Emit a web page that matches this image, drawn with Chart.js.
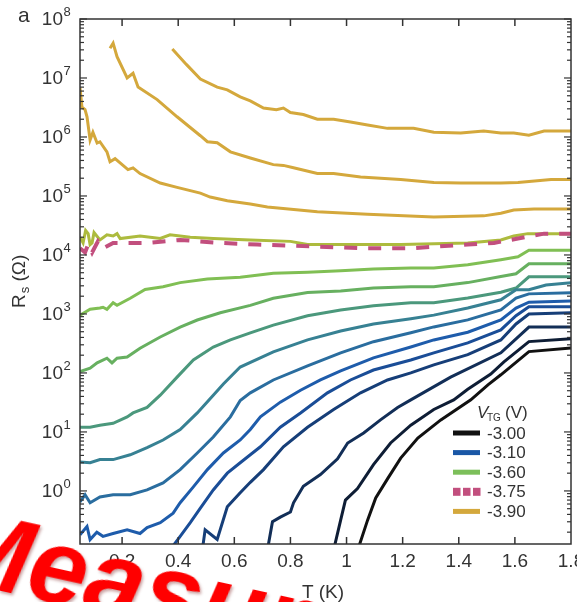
<!DOCTYPE html>
<html lang="en">
<head>
<meta charset="UTF-8">
<title>Rs versus T</title>
<script src="https://cdn.jsdelivr.net/npm/chart.js"></script>
<style>
  body { margin: 0; background: #fff; }
  #wrap { position: relative; width: 577px; height: 602px; overflow: hidden; }
  #stamp {
    position: absolute; left: -43px; top: 490px;
    font: italic bold 105px "Liberation Sans", Arial, sans-serif;
    line-height: 1; color: #ff0000; white-space: nowrap;
    transform: rotate(12.5deg); transform-origin: 0 0;
    text-shadow: 2px 2px 3px rgba(110, 0, 0, 0.35);
  }
</style>
</head>
<body>
<div id="wrap">
  <canvas id="rsChart" width="577" height="602"></canvas>
  <div id="stamp">Measure</div>
</div>
<script>
// axis ranges and tick labels
const tRange = [0.05, 1.8];
const rRange = [0.126, 1e8];
const xTickValues = [0.2, 0.4, 0.6, 0.8, 1, 1.2, 1.4, 1.6, 1.8];
const xTickLabels = ['0.2', '0.4', '0.6', '0.8', '1', '1.2', '1.4', '1.6', '1.8'];
const yDecades = [0, 1, 2, 3, 4, 5, 6, 7, 8];

// legend
const legendLabels = ['-3.00', '-3.10', '-3.60', '-3.75', '-3.90'];
const legendColors = ['#111111', '#1a57a6', '#7cbf5a', '#c24f7e', '#d4a83c'];

// curves, [T (K), Rs (ohm)], lowest curve first
const c01 = [[1.04,0.1],[1.075,0.32],[1.104,0.76],[1.146,1.6],[1.193,3.6],[1.254,7.9],[1.336,16],[1.443,35],[1.504,63],[1.55,93],[1.65,230],[1.8,265]];
const c02 = [[0.954,0.1],[0.979,0.32],[0.996,0.7],[1.039,1.1],[1.096,2.8],[1.157,6.5],[1.229,13],[1.311,24],[1.382,35],[1.432,53],[1.514,96],[1.561,154],[1.65,340],[1.8,380]];
const c03 = [[0.718,0.1],[0.736,0.3],[0.764,0.36],[0.8,0.44],[0.811,0.63],[0.846,1.2],[0.907,1.9],[0.968,3.5],[1.004,6.5],[1.061,9.6],[1.121,16],[1.182,26],[1.229,35],[1.371,85],[1.55,220],[1.65,600],[1.8,600]];
const c04 = [[0.486,0.1],[0.496,0.22],[0.539,0.15],[0.575,0.54],[0.621,0.93],[0.657,1.4],[0.704,2.3],[0.775,5.6],[0.861,12],[0.954,24],[1.05,46],[1.146,76],[1.229,100],[1.311,137],[1.432,204],[1.55,363],[1.604,676],[1.65,1000],[1.8,1050]];
const c05 = [[0.371,0.1],[0.407,0.17],[0.443,0.29],[0.479,0.51],[0.525,1.04],[0.575,2.0],[0.621,3.0],[0.657,4.1],[0.693,5.6],[0.764,12],[0.836,21],[0.932,46],[1.014,76],[1.096,112],[1.229,166],[1.311,219],[1.432,324],[1.55,537],[1.604,933],[1.65,1320],[1.8,1320]];
const c06 = [[0.05,0.18],[0.075,0.25],[0.086,0.15],[0.11,0.2],[0.132,0.17],[0.168,0.19],[0.218,0.22],[0.264,0.19],[0.289,0.24],[0.336,0.29],[0.382,0.42],[0.407,0.63],[0.454,1.17],[0.504,2.3],[0.561,4.4],[0.621,7.3],[0.657,11],[0.693,18],[0.764,32],[0.836,51],[0.907,76],[0.979,108],[1.096,180],[1.229,275],[1.311,363],[1.432,490],[1.55,790],[1.604,1260],[1.65,1580],[1.8,1660]];
const c07 = [[0.05,0.65],[0.068,0.86],[0.086,0.63],[0.121,0.79],[0.168,0.86],[0.229,0.86],[0.289,1.04],[0.346,1.37],[0.407,2.3],[0.468,4.4],[0.525,8.2],[0.586,18],[0.621,34],[0.657,46],[0.739,76],[0.861,132],[0.979,219],[1.096,339],[1.229,479],[1.311,603],[1.432,794],[1.55,1170],[1.604,1860],[1.65,2190],[1.8,2290]];
const c08 = [[0.05,3.1],[0.086,3.0],[0.121,3.4],[0.168,3.4],[0.229,4.1],[0.289,5.4],[0.346,7.3],[0.407,11],[0.468,21],[0.525,42],[0.561,65],[0.621,126],[0.739,228],[0.861,363],[0.979,513],[1.096,676],[1.229,832],[1.311,955],[1.432,1260],[1.55,1740],[1.604,2570],[1.65,2570],[1.711,3090],[1.8,3390]];
const c09 = [[0.05,12],[0.086,12],[0.121,13],[0.168,14],[0.218,18],[0.239,21],[0.289,26],[0.336,42],[0.396,85],[0.454,166],[0.525,275],[0.586,363],[0.657,479],[0.739,646],[0.861,933],[0.979,1170],[1.096,1380],[1.229,1550],[1.311,1550],[1.432,1860],[1.55,2340],[1.604,2750],[1.65,4270],[1.8,4270]];
const c10 = [[0.05,105],[0.086,120],[0.111,148],[0.146,178],[0.164,148],[0.182,178],[0.218,186],[0.264,263],[0.336,407],[0.407,600],[0.468,790],[0.55,1050],[0.657,1400],[0.739,1850],[0.861,2300],[0.979,2450],[1.096,2750],[1.229,2880],[1.311,2880],[1.432,3400],[1.55,4300],[1.604,4800],[1.65,7100],[1.8,7100]];
const c11 = [[0.05,950],[0.086,1200],[0.121,1260],[0.132,1300],[0.146,1200],[0.168,1550],[0.182,1400],[0.229,1850],[0.282,2600],[0.346,2900],[0.407,3400],[0.504,3900],[0.621,4200],[0.739,4900],[0.861,5100],[0.979,5400],[1.096,5800],[1.229,6000],[1.311,6000],[1.432,6800],[1.55,8300],[1.611,9300],[1.65,12000],[1.8,12000]];
const c12 = [[0.05,2.0e4],[0.061,1.6e4],[0.07,2.6e4],[0.079,2.3e4],[0.086,1.5e4],[0.093,1.6e4],[0.1,2.4e4],[0.121,1.8e4],[0.146,2.2e4],[0.168,2.1e4],[0.182,2.3e4],[0.193,1.9e4],[0.264,2.1e4],[0.336,1.9e4],[0.371,2.2e4],[0.443,2.0e4],[0.525,1.9e4],[0.657,1.8e4],[0.8,1.7e4],[0.861,1.5e4],[0.979,1.5e4],[1.193,1.5e4],[1.432,1.6e4],[1.55,1.8e4],[1.596,2.1e4],[1.646,2.3e4],[1.8,2.3e4]];
const c13 = [[0.05,1.3e4],[0.068,1.1e4],[0.079,1.5e4],[0.093,1.1e4],[0.114,1.7e4],[0.132,1.3e4],[0.168,1.6e4],[0.289,1.6e4],[0.407,1.8e4],[0.55,1.6e4],[0.682,1.5e4],[0.871,1.4e4],[1.061,1.3e4],[1.229,1.3e4],[1.432,1.5e4],[1.525,1.6e4],[1.611,1.9e4],[1.704,2.3e4],[1.8,2.3e4]];
const c14 = [[0.05,6.8e6],[0.057,3.2e6],[0.068,2.9e6],[0.075,2.2e6],[0.086,8.9e5],[0.096,1.2e6],[0.111,7.9e5],[0.121,8.3e5],[0.146,5.6e5],[0.157,3.8e5],[0.175,4.3e5],[0.221,2.8e5],[0.239,3.0e5],[0.264,2.4e5],[0.336,1.66e5],[0.396,1.4e5],[0.479,1.12e5],[0.514,9.6e4],[0.575,8.3e4],[0.657,7.3e4],[0.718,6.5e4],[0.896,5.4e4],[1.075,4.9e4],[1.311,4.4e4],[1.489,4.6e4],[1.55,5.1e4],[1.596,5.8e4],[1.668,6.0e4],[1.8,6.0e4]];
const c15 = [[0.157,3.2e7],[0.168,3.9e7],[0.182,2.3e7],[0.218,1.0e7],[0.239,1.2e7],[0.257,7.0e6],[0.325,4.3e6],[0.396,2.2e6],[0.479,1.05e6],[0.504,8.3e5],[0.539,8.0e5],[0.586,5.6e5],[0.657,4.4e5],[0.739,3.4e5],[0.775,3.3e5],[0.811,3.0e5],[0.896,2.4e5],[0.954,2.4e5],[1.05,2.1e5],[1.193,1.9e5],[1.311,1.7e5],[1.407,1.66e5],[1.55,1.66e5],[1.611,1.7e5],[1.729,1.9e5],[1.8,1.9e5]];
const c16 = [[0.379,3.1e7],[0.429,1.7e7],[0.479,9.6e6],[0.539,7.0e6],[0.575,6.3e6],[0.621,4.8e6],[0.657,4.1e6],[0.704,3.1e6],[0.75,2.9e6],[0.775,3.1e6],[0.8,2.6e6],[0.846,2.4e6],[0.896,2.0e6],[0.954,2.0e6],[1.014,1.8e6],[1.075,1.6e6],[1.146,1.4e6],[1.193,1.4e6],[1.239,1.4e6],[1.311,1.2e6],[1.407,1.17e6],[1.489,1.26e6],[1.55,1.17e6],[1.596,1.17e6],[1.65,1.07e6],[1.704,1.26e6],[1.8,1.26e6]];

const curveData = [c01, c02, c03, c04, c05, c06, c07, c08, c09, c10, c11, c12, c13, c14, c15, c16];
const curveColors = ['#111111', '#0e1d35', '#122e57', '#163e78', '#1a4d97', '#1e5cab', '#2a6d9f', '#378193',
                     '#4b987c', '#67b060', '#80bf54', '#adbb3e', '#c24f7e', '#d4a83c', '#d4a83c', '#d4a83c'];
const dashedIndex = 12;

const FONT = '"Liberation Sans", Arial, sans-serif';
const INK = '#333333';

function makeDataset(points, i) {
    const dashed = i === dashedIndex;
    return {
        data: points.map(p => ({ x: p[0], y: p[1] })),
        borderColor: curveColors[i],
        borderWidth: dashed ? 4 : 3,
        borderDash: dashed ? [13, 11] : [],
        pointRadius: 0,
        tension: 0,
        clip: 0,
        // dashed curve drawn on top of the others
        order: dashed ? 0 : 1
    };
}

// draws the framed axes with inward ticks, tick labels, titles and legend
const framePlugin = {
    id: 'frame',
    afterDraw(chart) {
        const { ctx, chartArea: a, scales: { x, y } } = chart;
        ctx.save();
        ctx.strokeStyle = INK;
        ctx.fillStyle = INK;
        ctx.lineWidth = 1.5;
        ctx.strokeRect(a.left, a.top, a.right - a.left, a.bottom - a.top);

        const seg = (x1, y1, x2, y2) => { ctx.beginPath(); ctx.moveTo(x1, y1); ctx.lineTo(x2, y2); ctx.stroke(); };

        // x ticks and labels
        ctx.font = '19px ' + FONT;
        ctx.textAlign = 'center';
        ctx.textBaseline = 'alphabetic';
        xTickValues.forEach((v, i) => {
            const px = x.getPixelForValue(v);
            if (v < 1.79) {
                seg(px, a.bottom, px, a.bottom - 7);
                seg(px, a.top, px, a.top + 7);
            }
            ctx.fillText(xTickLabels[i], px, 567);
        });

        // y ticks (decades and minors) on both sides
        ctx.lineWidth = 1.2;
        for (let n = -1; n <= 8; n++) {
            for (let k = 1; k <= 9; k++) {
                const v = k * Math.pow(10, n);
                if (v < y.min || v > y.max) continue;
                const py = y.getPixelForValue(v);
                const len = k === 1 ? 7 : 4;
                seg(a.left, py, a.left + len, py);
                seg(a.right, py, a.right - len, py);
            }
        }

        // y labels 10^n
        yDecades.forEach(n => {
            const py = y.getPixelForValue(Math.pow(10, n));
            ctx.font = '19px ' + FONT;
            ctx.textAlign = 'right';
            ctx.textBaseline = 'middle';
            ctx.fillText('10', 63, py + 1);
            ctx.font = '13px ' + FONT;
            ctx.textAlign = 'left';
            ctx.fillText(String(n), 63.5, py - 7);
        });

        // panel letter
        ctx.font = '21px ' + FONT;
        ctx.textAlign = 'left';
        ctx.textBaseline = 'alphabetic';
        ctx.fillText('a', 18, 22);

        // x title
        ctx.font = '19px ' + FONT;
        ctx.textAlign = 'center';
        ctx.fillText('T (K)', 323, 598);

        // y title, rotated
        ctx.save();
        ctx.translate(25, 308);
        ctx.rotate(-Math.PI / 2);
        ctx.textAlign = 'left';
        ctx.font = '19px ' + FONT;
        ctx.fillText('R', 0, 0);
        let w = ctx.measureText('R').width;
        ctx.font = '13px ' + FONT;
        ctx.fillText('s', w + 1, 4);
        w += ctx.measureText('s').width + 1;
        ctx.font = '19px ' + FONT;
        ctx.fillText(' (\u03a9)', w, 0);
        ctx.restore();

        // legend
        ctx.textAlign = 'left';
        ctx.textBaseline = 'alphabetic';
        ctx.font = 'italic 17px ' + FONT;
        ctx.fillText('V', 477, 418);
        ctx.font = '10px ' + FONT;
        ctx.fillText('TG', 487, 421);
        ctx.font = '17px ' + FONT;
        ctx.fillText('(V)', 505, 418);
        legendLabels.forEach((lab, i) => {
            const cy = 433 + i * 19.6;
            ctx.fillStyle = legendColors[i];
            if (i === 3) {
                for (let s = 0; s < 3; s++) ctx.fillRect(453 + s * 10, cy - 4, 7.5, 8);
            } else {
                ctx.fillRect(453, cy - 2.5, 27, 5);
            }
            ctx.fillStyle = INK;
            ctx.font = '17px ' + FONT;
            ctx.textBaseline = 'middle';
            ctx.fillText(lab, 487, cy + 1);
            ctx.textBaseline = 'alphabetic';
        });
        ctx.restore();
    }
};

new Chart(document.getElementById('rsChart'), {
    type: 'line',
    data: { datasets: curveData.map(makeDataset) },
    options: {
        responsive: false,
        animation: false,
        layout: { padding: { left: 80, right: 6, top: 19, bottom: 58 } },
        plugins: { legend: { display: false }, tooltip: { enabled: false } },
        scales: {
            x: { type: 'linear', min: tRange[0], max: tRange[1], display: false },
            y: { type: 'logarithmic', min: rRange[0], max: rRange[1], display: false }
        }
    },
    plugins: [framePlugin]
});
</script>
</body>
</html>
